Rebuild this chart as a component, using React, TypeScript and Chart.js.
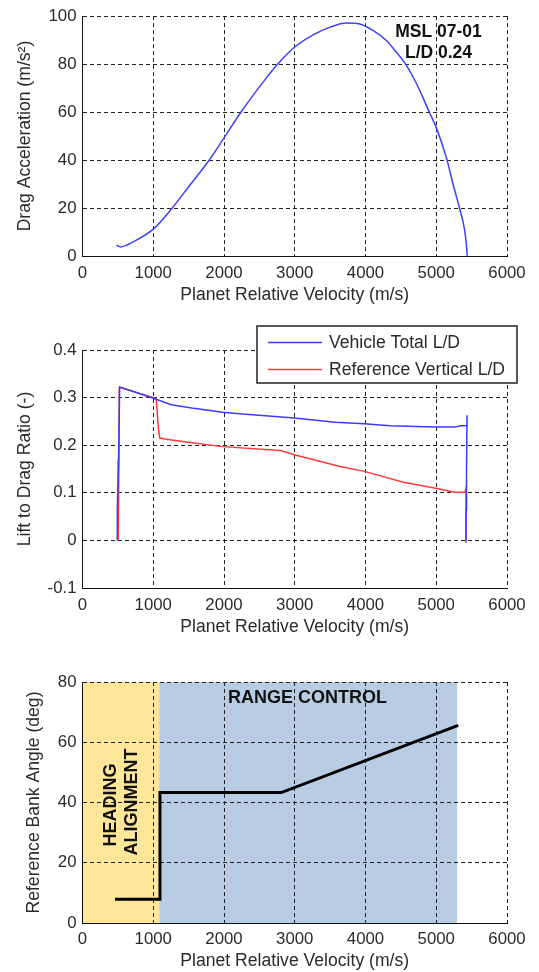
import React, { useEffect, useRef } from 'react';
import { Chart, registerables } from 'chart.js';

Chart.register(...registerables);

const FONT = "'Liberation Sans', Arial, Helvetica, sans-serif";
Chart.defaults.font.family = FONT;

// ---------- shared axis labels ----------
const X_TITLE = 'Planet Relative Velocity (m/s)';
const X_MIN = 0;
const X_MAX = 6000;
const X_STEP = 1000;

// ---------- panel 1: drag acceleration ----------
const DRAG_TITLE = 'Drag Acceleration (m/s²)';
const dragVelocity = [481, 538, 717, 1000, 1269, 1519, 1792, 1991, 2241, 2580, 2760, 3000, 3259, 3494, 3729, 3918, 4106, 4294, 4435, 4567, 4718, 4906, 5000, 5141, 5235, 5329, 5400, 5432, 5437];
const dragAccel = [4.5, 3.8, 5.9, 11.2, 20.0, 29.6, 40.0, 48.8, 60.0, 73.5, 80.0, 87.1, 92.2, 95.3, 97.1, 96.7, 94.0, 89.8, 85.0, 80.0, 72.0, 59.7, 53.5, 41.2, 30.2, 19.9, 11.0, 2.7, 0];
const dragNote = ['MSL 07-01', 'L/D 0.24'];

// ---------- panel 2: lift to drag ----------
const LD_TITLE = 'Lift to Drag Ratio (-)';
const ldLabels = ['Vehicle Total L/D', 'Reference Vertical L/D'];
const totalVelocity = [5420, 5423, 5428, 5435, 5435, 5340, 5270, 4972, 4344, 3982, 3572, 2993, 2220, 1979, 1545, 1255, 990, 525, 510, 492, 492];
const totalLD = [-0.005, 0.065, 0.145, 0.263, 0.241, 0.241, 0.238, 0.238, 0.241, 0.245, 0.248, 0.257, 0.266, 0.269, 0.278, 0.285, 0.299, 0.322, 0.17, 0.063, 0];
const vertVelocity = [5420, 5420, 5405, 5262, 4972, 4537, 3982, 3668, 2993, 2800, 1979, 1545, 1158, 1091, 1072, 1045, 1038, 1000, 525, 520, 515, 505, 505];
const vertLD = [0, 0.11, 0.101, 0.101, 0.110, 0.122, 0.145, 0.154, 0.180, 0.189, 0.197, 0.205, 0.213, 0.215, 0.238, 0.29, 0.297, 0.300, 0.322, 0.32, 0.17, 0.17, 0];

// ---------- panel 3: reference bank angle ----------
const BANK_TITLE = 'Reference Bank Angle (deg)';
const bankVelocity = [459, 1095, 1095, 2809, 5310];
const bankAngle = [7.9, 7.9, 43.3, 43.3, 65.6];
const phaseStart = [0, 1085];
const phaseEnd = [1085, 5295];
const phaseNames = ['HEADING ALIGNMENT', 'RANGE CONTROL'];

const TEXT = '#2a2a2a';
const GRID = '#222222';
const TICK_SIZE = 16.8;
const TITLE_SIZE = 17.6;

const pts = (xs: number[], ys: number[]) => xs.map((x, i) => ({ x, y: ys[i] }));

function xAxis(axisH: number, tickPad: number, titlePadBottom: number) {
  return {
    type: 'linear',
    min: X_MIN,
    max: X_MAX,
    ticks: {
      stepSize: X_STEP,
      color: TEXT,
      font: { size: TICK_SIZE },
      padding: tickPad,
      maxRotation: 0,
      autoSkip: false,
      callback: (v: any) => String(v),
    },
    grid: { color: GRID, lineWidth: 1, drawTicks: false },
    border: { display: true, color: '#111', width: 1, dash: [4, 3] },
    title: {
      display: true,
      text: X_TITLE,
      color: TEXT,
      font: { size: TITLE_SIZE },
      padding: { top: 0, bottom: titlePadBottom },
    },
    afterFit: (s: any) => {
      s.height = axisH;
    },
  };
}

function yAxis(min: number, max: number, step: number, title: string, titlePad: number, fmt: (v: number) => string) {
  return {
    type: 'linear',
    min,
    max,
    ticks: {
      stepSize: step,
      color: TEXT,
      font: { size: TICK_SIZE },
      padding: 6,
      autoSkip: false,
      callback: (v: any) => fmt(Number(v)),
    },
    grid: { color: GRID, lineWidth: 1, drawTicks: false },
    border: { display: true, color: '#111', width: 1, dash: [4, 3] },
    title: {
      display: true,
      text: title,
      color: TEXT,
      font: { size: TITLE_SIZE },
      padding: { top: titlePad, bottom: 0 },
    },
    afterFit: (s: any) => {
      s.width = 82.5;
    },
  };
}

const basePlugins = {
  legend: { display: false },
  tooltip: { enabled: false },
};

const notePlugin = {
  id: 'dragNote',
  afterDatasetsDraw(chart: any) {
    const { ctx, chartArea } = chart;
    ctx.save();
    ctx.fillStyle = '#111';
    ctx.font = `bold 17.5px ${FONT}`;
    ctx.textAlign = 'center';
    ctx.textBaseline = 'middle';
    ctx.fillText(dragNote[0], chartArea.right - 68.5, chartArea.top + 16);
    ctx.fillText(dragNote[1], chartArea.right - 68.5, chartArea.top + 37);
    ctx.restore();
  },
};

const ldLegendPlugin = {
  id: 'ldLegend',
  afterDraw(chart: any) {
    const { ctx, chartArea } = chart;
    const x0 = chartArea.right - 250;
    const y0 = chartArea.top - 24;
    const w = 260;
    const h = 57;
    ctx.save();
    ctx.fillStyle = '#ffffff';
    ctx.fillRect(x0, y0, w, h);
    ctx.strokeStyle = '#222';
    ctx.lineWidth = 1.5;
    ctx.strokeRect(x0, y0, w, h);
    chart.data.datasets.forEach((ds: any, i: number) => {
      const y = y0 + 16.5 + i * 27;
      ctx.strokeStyle = ds.borderColor;
      ctx.lineWidth = 1.5;
      ctx.beginPath();
      ctx.moveTo(x0 + 11, y);
      ctx.lineTo(x0 + 65, y);
      ctx.stroke();
      ctx.fillStyle = TEXT;
      ctx.font = `${TITLE_SIZE}px ${FONT}`;
      ctx.textAlign = 'left';
      ctx.textBaseline = 'middle';
      ctx.fillText(ds.label, x0 + 72, y + 1);
    });
    ctx.restore();
  },
};

const PHASE_COLORS = ['#FFE699', '#B8CCE4'];

const phasePlugin = {
  id: 'phases',
  beforeDraw(chart: any) {
    const { ctx, chartArea, scales } = chart;
    ctx.save();
    phaseStart.forEach((s, i) => {
      const x1 = scales.x.getPixelForValue(s);
      const x2 = scales.x.getPixelForValue(phaseEnd[i]);
      ctx.fillStyle = PHASE_COLORS[i];
      ctx.fillRect(x1, chartArea.top, x2 - x1, chartArea.bottom - chartArea.top);
    });
    ctx.restore();
  },
  afterDatasetsDraw(chart: any) {
    const { ctx, chartArea } = chart;
    ctx.save();
    ctx.fillStyle = '#111';
    ctx.font = `bold 18px ${FONT}`;
    ctx.textAlign = 'center';
    ctx.textBaseline = 'middle';
    ctx.fillText(phaseNames[1], chartArea.left + 225, chartArea.top + 16);
    const words = phaseNames[0].split(' ');
    ctx.save();
    ctx.translate(chartArea.left + 28.5, chartArea.top + 123);
    ctx.rotate(-Math.PI / 2);
    ctx.fillText(words[0], 0, 0);
    ctx.restore();
    ctx.save();
    ctx.translate(chartArea.left + 50, chartArea.top + 120);
    ctx.rotate(-Math.PI / 2);
    ctx.fillText(words[1], 0, 0);
    ctx.restore();
    ctx.restore();
  },
};

function buildDrag(): any {
  return {
    type: 'line',
    data: {
      datasets: [
        {
          label: 'Drag',
          data: pts(dragVelocity, dragAccel),
          borderColor: '#3f3fff',
          borderWidth: 1.5,
          pointRadius: 0,
          cubicInterpolationMode: 'monotone',
          fill: false,
        },
      ],
    },
    options: {
      animation: false,
      responsive: false,
      layout: { padding: { top: 16, right: 32, left: 0, bottom: 0 } },
      plugins: basePlugins,
      scales: {
        x: xAxis(54, 7, 4),
        y: yAxis(0, 100, 20, DRAG_TITLE, 15, (v) => String(v)),
      },
    },
    plugins: [notePlugin],
  };
}

function buildLD(): any {
  return {
    type: 'line',
    data: {
      datasets: [
        {
          label: ldLabels[0],
          data: pts(totalVelocity, totalLD),
          borderColor: '#3a3aff',
          borderWidth: 1.5,
          pointRadius: 0,
          tension: 0,
          fill: false,
        },
        {
          label: ldLabels[1],
          data: pts(vertVelocity, vertLD),
          borderColor: '#ff3a3a',
          borderWidth: 1.5,
          pointRadius: 0,
          tension: 0,
          fill: false,
        },
      ],
    },
    options: {
      animation: false,
      responsive: false,
      layout: { padding: { top: 40, right: 32, left: 0, bottom: 0 } },
      plugins: basePlugins,
      scales: {
        x: xAxis(52, 7, 2),
        y: yAxis(-0.1, 0.4, 0.1, LD_TITLE, 15, (v) => String(Math.round(v * 10) / 10)),
      },
    },
    plugins: [ldLegendPlugin],
  };
}

function buildBank(): any {
  return {
    type: 'line',
    data: {
      datasets: [
        {
          label: 'Bank',
          data: pts(bankVelocity, bankAngle),
          borderColor: '#000000',
          borderWidth: 3,
          borderJoinStyle: 'miter',
          borderCapStyle: 'butt',
          pointRadius: 0,
          tension: 0,
          fill: false,
        },
      ],
    },
    options: {
      animation: false,
      responsive: false,
      layout: { padding: { top: 42, right: 32, left: 0, bottom: 0 } },
      plugins: basePlugins,
      scales: {
        x: xAxis(49, 6, 0),
        y: yAxis(0, 80, 20, BANK_TITLE, 23.5, (v) => String(v)),
      },
    },
    plugins: [phasePlugin],
  };
}

function Panel({ top, height, build }: { top: number; height: number; build: () => any }) {
  const ref = useRef<HTMLCanvasElement>(null);
  useEffect(() => {
    if (!ref.current) return;
    const chart = new Chart(ref.current, build());
    return () => chart.destroy();
  }, [build]);
  return (
    <canvas
      ref={ref}
      width={539}
      height={height}
      style={{ position: 'absolute', left: 0, top, width: 539, height, display: 'block' }}
    />
  );
}

export default function App() {
  useEffect(() => {
    document.body.style.margin = '0';
    document.body.style.background = '#ffffff';
  }, []);
  return (
    <div style={{ position: 'relative', width: 539, height: 972, background: '#fff', overflow: 'hidden' }}>
      <Panel top={0} height={310} build={buildDrag} />
      <Panel top={310} height={330} build={buildLD} />
      <Panel top={640} height={332} build={buildBank} />
    </div>
  );
}
